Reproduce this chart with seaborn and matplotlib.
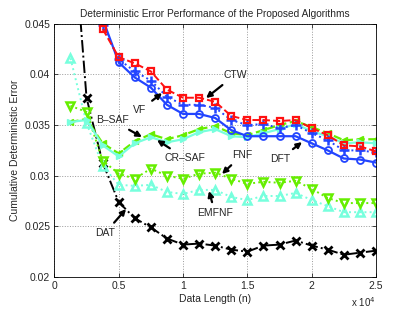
import numpy as np
import pandas as pd
import matplotlib
matplotlib.use("Agg")
import matplotlib.pyplot as plt
import seaborn as sns

# -----------------------------
# Data
# -----------------------------
data_length = [1250 * k for k in range(1, 21)]

dft = [0.060, 0.052, 0.0455, 0.0412, 0.0397, 0.0387, 0.0370, 0.0361, 0.0361, 0.0357,
       0.0345, 0.0339, 0.0339, 0.0339, 0.0339, 0.0332, 0.0325, 0.0317, 0.0316, 0.0313]
vf = [0.060, 0.052, 0.0449, 0.0415, 0.0403, 0.0394, 0.0378, 0.0370, 0.0370, 0.0367,
      0.0355, 0.0350, 0.0351, 0.0347, 0.0350, 0.0342, 0.0335, 0.0325, 0.0325, 0.0323]
ctw = [0.060, 0.052, 0.0445, 0.0417, 0.0411, 0.0403, 0.0385, 0.0377, 0.0377, 0.0373,
       0.0359, 0.0355, 0.0355, 0.0354, 0.0355, 0.0347, 0.0340, 0.0330, 0.0329, 0.0324]
b_saf = [0.0353, 0.0356, 0.0332, 0.0322, 0.0334, 0.0341, 0.0336, 0.0340, 0.0346, 0.0349,
         0.0342, 0.0340, 0.0345, 0.0350, 0.0354, 0.0348, 0.0342, 0.0335, 0.0336, 0.0336]
cr_saf = [0.0353, 0.0355, 0.0330, 0.0319, 0.0332, 0.0338, 0.0333, 0.0336, 0.0343, 0.0346,
          0.0339, 0.0338, 0.0342, 0.0346, 0.0351, 0.0344, 0.0339, 0.0332, 0.0333, 0.0332]
fnf = [0.0369, 0.0363, 0.0315, 0.0302, 0.0297, 0.0307, 0.0300, 0.0297, 0.0302, 0.0303,
       0.0297, 0.0292, 0.0294, 0.0293, 0.0295, 0.0287, 0.0278, 0.0273, 0.0273, 0.0273]
emfnf = [0.0416, 0.0352, 0.0310, 0.0291, 0.0290, 0.0291, 0.0284, 0.0282, 0.0286, 0.0286,
         0.0279, 0.0276, 0.0280, 0.0280, 0.0283, 0.0276, 0.0270, 0.0264, 0.0264, 0.0264]
dat = [0.058, 0.0377, 0.0313, 0.0274, 0.0258, 0.0249, 0.0238, 0.0232, 0.0233, 0.0231,
       0.0227, 0.0225, 0.0231, 0.0232, 0.0236, 0.0231, 0.0227, 0.0222, 0.0224, 0.0226]

x_ticks = [0, 5000, 10000, 15000, 20000, 25000]
x_tick_labels = ["0", "0.5", "1", "1.5", "2", "2.5"]
y_ticks = [0.02, 0.025, 0.03, 0.035, 0.04, 0.045]
y_tick_labels = ["0.02", "0.025", "0.03", "0.035", "0.04", "0.045"]

df = pd.DataFrame({
    "n": data_length,
    "DFT": dft, "VF": vf, "CTW": ctw,
    "B-SAF": b_saf, "CR-SAF": cr_saf,
    "FNF": fnf, "EMFNF": emfnf, "DAT": dat,
})

# -----------------------------
# Styling
# -----------------------------
sns.set_style("ticks")
plt.rcParams["font.family"] = ["Liberation Sans", "DejaVu Sans"]
plt.rcParams["font.size"] = 7.5

green = "#66ee00"
cyan = "#77ffdd"

# line style / marker settings per series
line_styles = {
    "DFT": ("#2244ff", "-", 1.6),
    "VF": ("#2244ff", ":", 1.4),
    "CTW": ("#ff1111", "--", 1.4),
    "B-SAF": (green, "--", 1.6),
    "CR-SAF": (cyan, "-", 1.6),
    "FNF": (green, ":", 1.4),
    "EMFNF": (cyan, ":", 1.4),
    "DAT": ("black", "-.", 1.4),
}
marker_styles = {
    "DFT": ("o", True, 5, 1.3),
    "VF": ("+", False, 7, 1.8),
    "CTW": ("s", True, 5, 1.6),
    "B-SAF": ("<", False, 5, 1.0),
    "CR-SAF": (">", False, 5, 1.0),
    "FNF": ("v", True, 6, 1.8),
    "EMFNF": ("^", True, 6, 1.8),
    "DAT": ("x", False, 5.5, 2.0),
}

fig = plt.figure(figsize=(4.15, 3.13), dpi=100)
ax = fig.add_axes([0.131, 0.115, 0.775, 0.809])

for name in ["DAT", "EMFNF", "FNF", "B-SAF", "CR-SAF", "DFT", "VF", "CTW"]:
    color, ls, lw = line_styles[name]
    sns.lineplot(data=df, x="n", y=name, ax=ax, color=color, linestyle=ls, linewidth=lw)
    line = ax.lines[-1]
    mk, hollow, ms, mew = marker_styles[name]
    line.set_marker(mk)
    line.set_markersize(ms)
    line.set_markeredgewidth(mew)
    line.set_markeredgecolor(color)
    line.set_markerfacecolor("none" if hollow else color)

ax.set_xlim(0, 25000)
ax.set_ylim(0.02, 0.045)
ax.set_xticks(x_ticks)
ax.set_xticklabels(x_tick_labels)
ax.set_yticks(y_ticks)
ax.set_yticklabels(y_tick_labels)
ax.tick_params(direction="in", length=3, width=0.6, top=True, right=True, labelsize=7.5, pad=3)
ax.grid(True, linestyle=":", color="#999999", linewidth=0.7)
for s in ax.spines.values():
    s.set_visible(True)
    s.set_linewidth(0.6)
    s.set_color("black")

ax.set_title("Deterministic Error Performance of the Proposed Algorithms", fontsize=7.3, pad=5)
ax.set_xlabel("Data Length (n)", fontsize=7.5, labelpad=2)
ax.set_ylabel("Cumulative Deterministic Error", fontsize=7.5, labelpad=3)
ax.text(1.0, -0.10, r"x 10$^4$", transform=ax.transAxes, ha="right", va="center", fontsize=7)

# -----------------------------
# Annotations
# -----------------------------
arrow = dict(arrowstyle="-|>", color="black", lw=1.6, mutation_scale=8, shrinkA=2, shrinkB=0)
notes = [
    ("CTW", (14040, 0.03994), (11790, 0.03767)),
    ("VF", (6660, 0.03648), (8370, 0.03816)),
    ("B\u2013SAF", (4480, 0.03549), (6810, 0.03382)),
    ("CR\u2013SAF", (10160, 0.03174), (7980, 0.03352)),
    ("FNF", (14580, 0.03204), (13030, 0.03017)),
    ("DFT", (17540, 0.03164), (19250, 0.03332)),
    ("EMFNF", (12490, 0.02631), (12020, 0.02849)),
    ("DAT", (3940, 0.02434), (5570, 0.02671)),
]
for label, txt, head in notes:
    ax.annotate(label, xy=head, xytext=txt, ha="center", va="center",
                fontsize=7.5, arrowprops=arrow, zorder=10)

plt.savefig("out.png", dpi=100)
